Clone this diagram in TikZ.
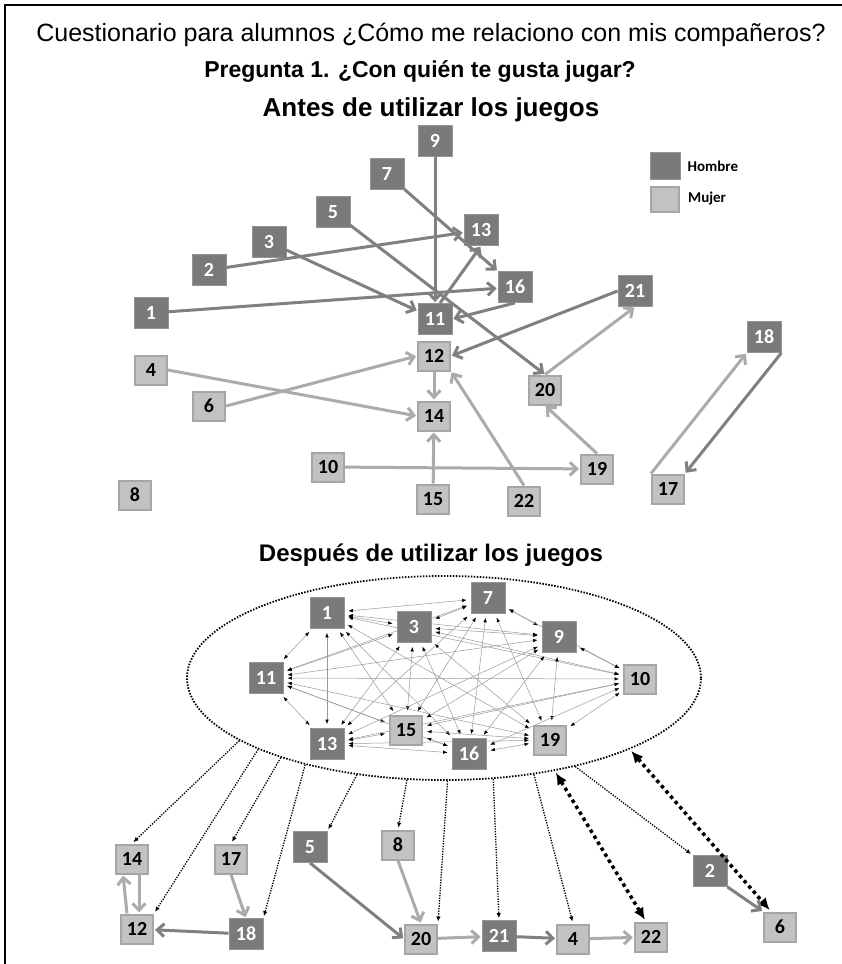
\documentclass[tikz,border=0pt]{standalone}
\usepackage{fontspec}
\setmainfont{Liberation Sans}
\newfontfamily\numfont{Carlito}
\usetikzlibrary{arrows.meta, positioning, shapes.geometric, backgrounds}

\begin{document}
\begin{tikzpicture}[x=1pt, y=-1pt,
                hombre/.style={draw=black!42, fill=black!52, line width=0.8pt, minimum width=34pt, minimum height=31pt,
                               inner sep=0pt, text=white, font=\numfont\bfseries\fontsize{20}{20}\selectfont},
                mujer/.style={hombre, draw=black!35, fill=black!24, line width=2pt, minimum width=32pt, minimum height=29pt, text=black},
                titulo/.style={font=\bfseries\fontsize{24}{24}\selectfont},
                leyenda/.style={inner sep=0pt, font=\numfont\bfseries\fontsize{15}{15}\selectfont},
                darkarr/.style={draw=black!50, line width=3pt, -{Straight Barb[length=7pt,width=13pt]}, shorten >=1pt},
                lightarr/.style={darkarr, draw=black!33},
                netarr/.style={draw=black!40, line width=0.5pt,
                               {Latex[length=4.5pt,width=3.5pt,color=black]}-{Latex[length=4.5pt,width=3.5pt,color=black]},
                               shorten <=4pt, shorten >=4pt},
                dotarr/.style={line width=1.3pt, dash pattern=on 1.3pt off 1.3pt, -{Latex[length=5pt,width=4.5pt]}, shorten >=2pt},
                bigdot/.style={line width=3.5pt, dash pattern=on 3.5pt off 3.5pt,
                               {Latex[length=12pt,width=11pt]}-{Latex[length=12pt,width=11pt]}, shorten <=2pt, shorten >=2pt}]
                \useasboundingbox (0,0) rectangle (842,964);
                \draw[line width=2pt] (5,964) -- (5,5) -- (842,5);

                % Titles
                \node[font=\fontsize{25}{25}\selectfont] (cuest) at (431,35) {Cuestionario para alumnos ¿Cómo me relaciono con mis compañeros?};
                \node[titulo, font=\bfseries\fontsize{23}{23}\selectfont] (preg) at (420,72) {Pregunta 1. ¿Con quién te gusta jugar?};
                \node[titulo, font=\bfseries\fontsize{26}{26}\selectfont] (antes) at (431,110) {Antes de utilizar los juegos};
                \node[titulo] (despues) at (431,555) {Después de utilizar los juegos};

                % Legend
                \node[hombre, minimum width=30pt, minimum height=27pt] (lh) at (665,166) {};
                \node[leyenda, right=7pt of lh] {Hombre};
                \node[mujer, minimum width=28pt, minimum height=25pt] (lm) at (665,199) {};
                \node[leyenda, right=8pt of lm] {Mujer};

                % Antes - Hombre
                \node[hombre] (a9) at (435,141) {9};
                \node[hombre] (a7) at (387,174) {7};
                \node[hombre] (a5) at (333,212) {5};
                \node[hombre] (a3) at (269,242) {3};
                \node[hombre] (a2) at (209,270) {2};
                \node[hombre] (a1) at (151,313) {1};
                \node[hombre] (a13) at (481,230) {13};
                \node[hombre] (a16) at (515,287) {16};
                \node[hombre] (a11) at (435,319) {11};
                \node[hombre] (a21) at (635,291) {21};
                \node[hombre] (a18) at (764,337) {18};

                % Antes - Mujer
                \node[mujer] (a12) at (434,356) {12};
                \node[mujer] (a14) at (434,416) {14};
                \node[mujer] (a4) at (151,370) {4};
                \node[mujer] (a6) at (209,406) {6};
                \node[mujer] (a10) at (328,467) {10};
                \node[mujer] (a15) at (433,499) {15};
                \node[mujer] (a22) at (524,501) {22};
                \node[mujer] (a8) at (135,495) {8};
                \node[mujer] (a20) at (545,390) {20};
                \node[mujer] (a19) at (597,469) {19};
                \node[mujer] (a17) at (668,489) {17};

                % Antes - edges
                \draw[darkarr] (a9) -- (a11);
                \draw[darkarr] (a7) -- (a16.north west);
                \draw[darkarr] (a5) -- (a20.north);
                \draw[darkarr] (a3) -- (a11);
                \draw[darkarr] (a2) -- (a13);
                \draw[darkarr] (a1) -- (a16);
                \draw[darkarr] ([xshift=5pt]a11.north) -- (a13.south);
                \draw[darkarr] (a16.south) -- (a11.east);
                \draw[darkarr] (a21.west) -- (a12.east);
                \draw[darkarr] (a18.south east) -- (a17.north east);
                \draw[lightarr] (a4.east) -- (a14.west);
                \draw[lightarr] (a6.east) -- (a12.west);
                \draw[lightarr] (a12) -- (a14);
                \draw[lightarr] (a15) -- (a14);
                \draw[lightarr] (a10) -- (a19);
                \draw[lightarr] (a22.north) -- (a12.south east);
                \draw[lightarr] (a20.north) -- (a21.south);
                \draw[lightarr] (a19.north) -- (a20.south);
                \draw[lightarr] (a17.north west) -- (a18.south west);

                % Despues - group
                \node[draw, ellipse, minimum width=514pt, minimum height=204pt, line width=1.8pt,
                      dash pattern=on 1.5pt off 1.5pt] (ell) at (444,678) {};
                \node[hombre] (e1) at (327,613) {1};
                \node[hombre] (e3) at (414,627) {3};
                \node[hombre] (e7) at (488,598) {7};
                \node[hombre] (e9) at (559,637) {9};
                \node[hombre] (e11) at (266,678) {11};
                \node[hombre] (e13) at (327,744) {13};
                \node[hombre] (e16) at (469,754) {16};
                \node[mujer] (e10) at (640,679) {10};
                \node[mujer] (e15) at (406,730) {15};
                \node[mujer] (e19) at (550,740) {19};

                \begin{scope}[on background layer]
                \foreach \p/\q in {1/3,1/7,1/9,1/11,1/10,1/15,1/13,1/16,1/19,
                                   3/7,3/9,3/11,3/10,3/15,3/13,3/16,3/19,
                                   7/9,7/11,7/10,7/15,7/13,7/16,7/19,
                                   9/11,9/10,9/15,9/13,9/16,9/19,
                                   11/10,11/15,11/13,11/16,11/19,
                                   10/15,10/13,10/16,10/19,
                                   15/13,15/16,15/19,13/16,13/19,16/19}
                    \draw[netarr] (e\p) -- (e\q);
                \end{scope}

                % Despues - outside
                \node[mujer] (b14) at (132,859) {14};
                \node[mujer] (b12) at (137,929) {12};
                \node[mujer] (b17) at (231,859) {17};
                \node[hombre] (b18) at (246,934) {18};
                \node[hombre] (b5) at (310,847) {5};
                \node[mujer] (b8) at (398,845) {8};
                \node[mujer] (b20) at (421,939) {20};
                \node[hombre] (b21) at (499,936) {21};
                \node[mujer] (b4) at (573,939) {4};
                \node[mujer] (b22) at (651,937) {22};
                \node[hombre] (b2) at (710,871) {2};
                \node[mujer] (b6) at (780,927) {6};

                \draw[dotarr] (ell.197) -- (b14.north);
                \draw[dotarr] (ell.201) -- (b12.north east);
                \draw[dotarr] (ell.206) -- (b17.north);
                \draw[dotarr] (ell.212) -- (b18.north east);
                \draw[dotarr] (ell.228) -- (b5.north east);
                \draw[dotarr] (ell.250) -- (b8.north);
                \draw[dotarr] (ell.272) -- (b20.north east);
                \draw[dotarr] (ell.296) -- (b21.north);
                \draw[dotarr] (ell.313) -- (b4.north);
                \draw[dotarr] (ell.326) -- (b2.north west);
                \draw[bigdot] (ell.320) -- ([xshift=-5pt]b22.north);
                \draw[bigdot] (ell.339) -- ([xshift=8pt]b6.north west);

                \draw[lightarr] ([xshift=7pt]b14.south) -- ([xshift=2pt]b12.north);
                \draw[lightarr] ([xshift=-10pt]b12.north) -- ([xshift=-9pt]b14.south);
                \draw[lightarr] (b17.south) -- (b18.north);
                \draw[darkarr] (b18) -- (b12);
                \draw[darkarr] (b5.south) -- (b20.west);
                \draw[lightarr] (b8.south) -- (b20.north);
                \draw[lightarr] (b20) -- (b21);
                \draw[darkarr] (b21) -- (b4);
                \draw[lightarr] (b4) -- (b22);
                \draw[darkarr] (b2.south east) -- (b6.north west);
            \end{tikzpicture}
\end{document}
